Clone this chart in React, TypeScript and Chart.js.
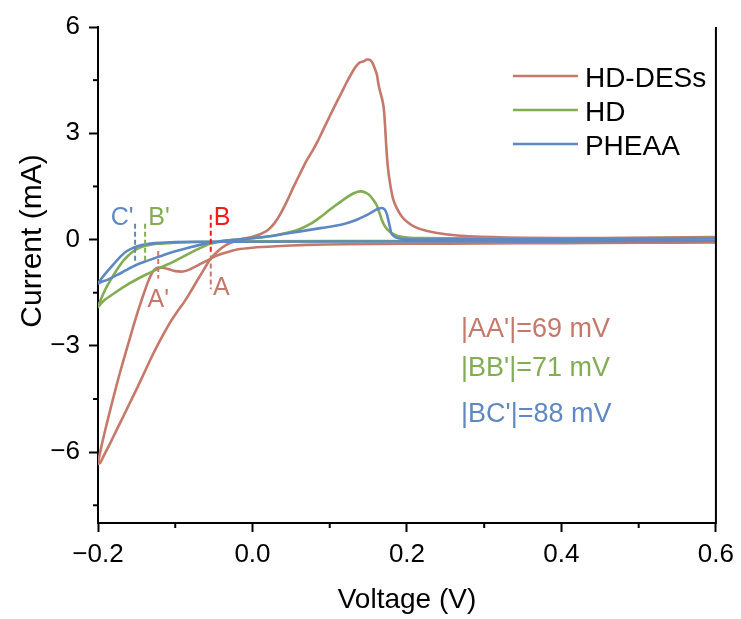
import React, { useEffect, useRef } from "react";
import { Chart, registerables } from "chart.js";

Chart.register(...registerables);

const FONT = "'Liberation Sans', Arial, Helvetica, sans-serif";

const seriesNames = ["HD-DESs", "HD", "PHEAA"];
const seriesColors = ["#C6786A", "#82AD52", "#5E88C2"];

// HD-DESs: cathodic scan from 0.6 V to -0.2 V, then anodic scan back to 0.6 V
const hdDesV = [
  0.6, 0.5, 0.4, 0.3, 0.2, 0.12, 0.07, 0.03, 0.0, -0.02, -0.035, -0.046, -0.055, -0.064, -0.072, -0.081,
  -0.09, -0.1, -0.108, -0.115, -0.122, -0.127, -0.131, -0.135, -0.139, -0.143, -0.148, -0.154, -0.16,
  -0.167, -0.174, -0.182, -0.19, -0.196, -0.2,
  -0.197, -0.193, -0.185, -0.176, -0.167, -0.159, -0.15, -0.141, -0.132, -0.124, -0.114, -0.105, -0.097,
  -0.089, -0.08, -0.072, -0.063, -0.055, -0.045, -0.034, -0.022, -0.01, 0.0, 0.01, 0.02, 0.028, 0.036,
  0.045, 0.053, 0.062, 0.07, 0.078, 0.085, 0.092, 0.1, 0.109, 0.116, 0.122, 0.128, 0.133, 0.139, 0.144,
  0.148, 0.152, 0.155, 0.158, 0.161, 0.163, 0.165, 0.168, 0.17, 0.1715, 0.173, 0.175, 0.178, 0.182,
  0.187, 0.193, 0.2, 0.21, 0.225, 0.25, 0.28, 0.35, 0.45, 0.6,
];
const hdDesI = [
  -0.08, -0.09, -0.1, -0.11, -0.12, -0.13, -0.15, -0.19, -0.23, -0.28, -0.37, -0.45, -0.55, -0.65, -0.74,
  -0.84, -0.9, -0.89, -0.84, -0.8, -0.79, -0.85, -0.98, -1.18, -1.42, -1.67, -2.0, -2.43, -2.88, -3.4,
  -3.95, -4.62, -5.32, -5.88, -6.33,
  -6.3, -6.12, -5.78, -5.38, -4.98, -4.62, -4.22, -3.8, -3.38, -3.03, -2.62, -2.28, -2.02, -1.78, -1.47,
  -1.17, -0.85, -0.56, -0.33, -0.15, -0.04, 0.03, 0.08, 0.15, 0.27, 0.45, 0.72, 1.1, 1.48, 1.88, 2.23,
  2.52, 2.8, 3.12, 3.48, 3.88, 4.18, 4.44, 4.68, 4.86, 5.0, 5.03, 5.08, 5.07, 5.0, 4.85, 4.66, 4.4, 4.2,
  3.95, 3.7, 3.27, 2.7, 2.1, 1.6, 1.15, 0.88, 0.66, 0.5, 0.36, 0.25, 0.15, 0.09, 0.05, 0.04, 0.07,
];

const hdV = [
  0.6, 0.4, 0.2, 0.0, -0.05, -0.09, -0.11, -0.124, -0.135, -0.143, -0.15, -0.157, -0.163, -0.168, -0.172,
  -0.177, -0.182, -0.188, -0.194, -0.2,
  -0.196, -0.19, -0.178, -0.161, -0.139, -0.119, -0.1, -0.081, -0.068, -0.055, -0.04, -0.02, 0.0, 0.027,
  0.045, 0.0615, 0.075, 0.087, 0.1, 0.113, 0.122, 0.1305, 0.136, 0.141, 0.147, 0.152, 0.157, 0.161, 0.164,
  0.167, 0.17, 0.174, 0.18, 0.187, 0.2, 0.217, 0.3, 0.6,
];
const hdI = [
  -0.02, -0.03, -0.04, -0.05, -0.06, -0.08, -0.1, -0.12, -0.16, -0.2, -0.27, -0.38, -0.5, -0.62, -0.74,
  -0.9, -1.08, -1.3, -1.57, -1.9,
  -1.8, -1.68, -1.5, -1.26, -1.0, -0.79, -0.6, -0.38, -0.24, -0.12, -0.05, 0.0, 0.04, 0.11, 0.19, 0.3,
  0.44, 0.62, 0.84, 1.05, 1.19, 1.3, 1.35, 1.36, 1.32, 1.24, 1.1, 0.96, 0.78, 0.58, 0.43, 0.3, 0.18, 0.11,
  0.06, 0.04, 0.03, 0.04,
];

const pheaaV = [
  0.6, 0.4, 0.2, 0.0, -0.05, -0.1, -0.126, -0.138, -0.148, -0.156, -0.163, -0.17, -0.176, -0.182, -0.188,
  -0.194, -0.2,
  -0.196, -0.187, -0.178, -0.169, -0.16, -0.152, -0.139, -0.126, -0.113, -0.1, -0.09, -0.081, -0.068,
  -0.055, -0.04, -0.02, 0.0, 0.027, 0.05, 0.07, 0.09, 0.113, 0.125, 0.135, 0.145, 0.152, 0.158, 0.163,
  0.167, 0.171, 0.174, 0.176, 0.178, 0.18, 0.184, 0.189, 0.2, 0.217, 0.3, 0.6,
];
const pheaaI = [
  -0.03, -0.05, -0.05, -0.06, -0.06, -0.07, -0.1, -0.13, -0.18, -0.25, -0.33, -0.46, -0.6, -0.75, -0.9,
  -1.06, -1.24,
  -1.2, -1.13, -1.03, -0.93, -0.82, -0.73, -0.62, -0.52, -0.42, -0.33, -0.27, -0.22, -0.15, -0.09, -0.04,
  0.0, 0.04, 0.11, 0.19, 0.26, 0.33, 0.41, 0.48, 0.56, 0.66, 0.74, 0.82, 0.87, 0.89, 0.85, 0.72, 0.54,
  0.35, 0.17, 0.08, 0.04, 0.01, 0.0, 0.01, 0.03,
];

const xTickValues = [-0.2, 0, 0.2, 0.4, 0.6];
const xMinorTicks = [-0.1, 0.1, 0.3, 0.5];
const yTickValues = [-6, -3, 0, 3, 6];
const yMinorTicks = [-7.5, -4.5, -1.5, 1.5, 4.5];

const xTitle = "Voltage (V)";
const yTitle = "Current (mA)";

const markerNames = ["A'", "A", "B", "B'", "C'"];
const markerV = [-0.122, -0.054, -0.054, -0.139, -0.152];
const markerTop = [-0.32, -0.45, 0.7, 0.45, 0.45];
const markerBottom = [-1.1, -1.4, -0.4, -0.6, -0.65];
const markerColors = ["#C6786A", "#C6786A", "#F21A1A", "#82AD52", "#5E88C2"];
const markerLabelV = [-0.122, -0.051, -0.05, -0.135, -0.154];
const markerLabelI = [-1.7, -1.38, 0.6, 0.6, 0.6];
const markerAlign = ["center", "left", "left", "left", "right"];

const noteTexts = ["|AA'|=69 mV", "|BB'|=71 mV", "|BC'|=88 mV"];
const noteV = [0.27, 0.27, 0.27];
const noteI = [-2.54, -3.64, -4.94];
const noteColors = ["#C6786A", "#82AD52", "#5E88C2"];

const fmt = (v: number, digits: number) => {
  const s = Math.abs(v) < 1e-9 ? (0).toFixed(digits) : v.toFixed(digits);
  return s.replace("-", "\u2212");
};

const toPoints = (vs: number[], is: number[]) => vs.map((x, k) => ({ x, y: is[k] }));

const overlayPlugin = {
  id: "overlay",
  afterDraw(chart: any) {
    const { ctx, chartArea: ca, scales } = chart;
    const x = scales.x;
    const y = scales.y;
    ctx.save();
    // right frame line
    ctx.strokeStyle = "#000";
    ctx.lineWidth = 2;
    ctx.beginPath();
    ctx.moveTo(ca.right, ca.top);
    ctx.lineTo(ca.right, ca.bottom + 1);
    ctx.stroke();
    // minor ticks
    xMinorTicks.forEach((v) => {
      const px = x.getPixelForValue(v);
      ctx.beginPath();
      ctx.moveTo(px, ca.bottom);
      ctx.lineTo(px, ca.bottom + 5);
      ctx.stroke();
    });
    yMinorTicks.forEach((v) => {
      const py = y.getPixelForValue(v);
      ctx.beginPath();
      ctx.moveTo(ca.left, py);
      ctx.lineTo(ca.left - 5, py);
      ctx.stroke();
    });
    // y axis title
    ctx.save();
    ctx.translate(33, ca.top + 214);
    ctx.rotate(-Math.PI / 2);
    ctx.fillStyle = "#000";
    ctx.font = `30px ${FONT}`;
    ctx.textAlign = "center";
    ctx.textBaseline = "middle";
    ctx.fillText(yTitle, 0, 0);
    ctx.restore();
    // dashed markers
    ctx.setLineDash([5, 3]);
    markerNames.forEach((_, k) => {
      const px = x.getPixelForValue(markerV[k]);
      ctx.strokeStyle = markerColors[k];
      ctx.lineWidth = 2;
      ctx.beginPath();
      ctx.moveTo(px, y.getPixelForValue(markerTop[k]));
      ctx.lineTo(px, y.getPixelForValue(markerBottom[k]));
      ctx.stroke();
    });
    ctx.setLineDash([]);
    ctx.textBaseline = "middle";
    ctx.font = `25px ${FONT}`;
    markerNames.forEach((name, k) => {
      ctx.fillStyle = markerColors[k];
      ctx.textAlign = markerAlign[k] as CanvasTextAlign;
      ctx.fillText(name, x.getPixelForValue(markerLabelV[k]), y.getPixelForValue(markerLabelI[k]));
    });
    // notes
    ctx.font = `27px ${FONT}`;
    ctx.textAlign = "left";
    noteTexts.forEach((t, k) => {
      ctx.fillStyle = noteColors[k];
      ctx.fillText(t, x.getPixelForValue(noteV[k]), y.getPixelForValue(noteI[k]));
    });
    // legend
    ctx.font = `28px ${FONT}`;
    seriesNames.forEach((name, k) => {
      const rowY = ca.top + 52 + k * 34;
      ctx.strokeStyle = seriesColors[k];
      ctx.lineWidth = 2.4;
      ctx.beginPath();
      ctx.moveTo(ca.right - 203, rowY - 3);
      ctx.lineTo(ca.right - 138, rowY - 3);
      ctx.stroke();
      ctx.fillStyle = "#000";
      ctx.fillText(name, ca.right - 131, rowY);
    });
    ctx.restore();
  },
};

export default function App() {
  const ref = useRef<HTMLCanvasElement | null>(null);
  useEffect(() => {
    if (!ref.current) return;
    const datasets = [
      { v: hdDesV, i: hdDesI },
      { v: hdV, i: hdI },
      { v: pheaaV, i: pheaaI },
    ].map((s, k) => ({
      label: seriesNames[k],
      data: toPoints(s.v, s.i),
      showLine: true,
      borderColor: seriesColors[k],
      backgroundColor: seriesColors[k],
      borderWidth: 2.6,
      pointRadius: 0,
      tension: 0.2,
      order: 3 - k,
    }));
    const chart = new Chart(ref.current, {
      type: "scatter",
      data: { datasets },
      options: {
        animation: false,
        responsive: false,
        layout: { padding: { top: 27, right: 25, left: 0, bottom: 0 } },
        plugins: { legend: { display: false }, tooltip: { enabled: false } },
        scales: {
          x: {
            type: "linear",
            min: -0.2,
            max: 0.6,
            afterBuildTicks: (scale: any) => {
              scale.ticks = xTickValues.map((value) => ({ value }));
            },
            afterFit: (scale: any) => {
              scale.height = 96;
            },
            ticks: {
              color: "#000",
              font: { family: FONT, size: 26 },
              padding: 7,
              maxRotation: 0,
              callback: (v: any) => fmt(Number(v), 1),
            },
            grid: {
              drawOnChartArea: false,
              tickLength: 9,
              tickWidth: 2,
              tickColor: "#000",
            },
            border: { color: "#000", width: 2 },
            title: {
              display: true,
              text: xTitle,
              color: "#000",
              font: { family: FONT, size: 28 },
              padding: { top: 0, bottom: 2 },
            },
          },
          y: {
            type: "linear",
            min: -8,
            max: 6,
            afterBuildTicks: (scale: any) => {
              scale.ticks = yTickValues.map((value) => ({ value }));
            },
            afterFit: (scale: any) => {
              scale.width = 98;
            },
            ticks: {
              color: "#000",
              font: { family: FONT, size: 26 },
              padding: 9,
              callback: (v: any) => fmt(Number(v), 0),
            },
            grid: {
              drawOnChartArea: false,
              tickLength: 9,
              tickWidth: 2,
              tickColor: "#000",
            },
            border: { color: "#000", width: 2 },
            title: { display: false },
          },
        },
      },
      plugins: [overlayPlugin],
    } as any);
    return () => chart.destroy();
  }, []);
  return (
    <div style={{ position: "fixed", left: 0, top: 0, width: 741, height: 619, background: "#fff" }}>
      <canvas ref={ref} width={741} height={619} style={{ display: "block" }} />
    </div>
  );
}
